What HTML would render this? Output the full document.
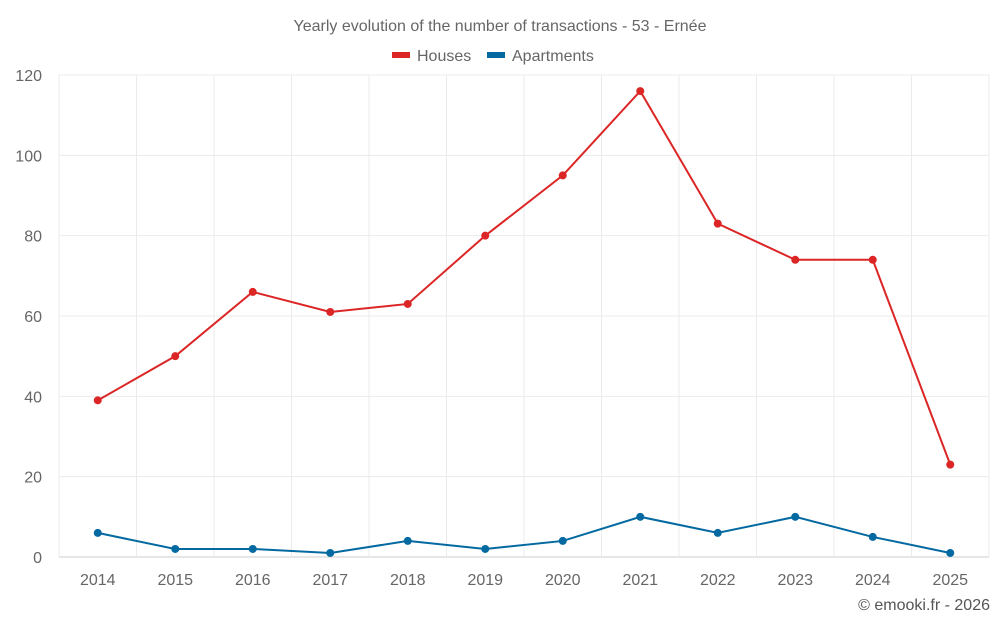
<!DOCTYPE html>
<html><head><meta charset="utf-8"><style>
body{margin:0;background:#fff;width:1000px;height:625px;overflow:hidden;font-family:"Liberation Sans",sans-serif}
svg text{font-family:"Liberation Sans",sans-serif}
</style></head><body>
<svg id="chart" width="1000" height="625" xmlns="http://www.w3.org/2000/svg">
<text x="500" y="31" text-anchor="middle" font-size="16" fill="#666">Yearly evolution of the number of transactions - 53 - Ernée</text>
<g>
<g><rect x="392" y="52" width="18" height="6" fill="#dc2626"/><text x="417" y="61" font-size="16" fill="#666">Houses</text></g>
<g><rect x="487" y="52" width="18" height="6" fill="#0369a1"/><text x="512" y="61" font-size="16" fill="#666">Apartments</text></g>
</g>
<g id="grid"></g>
<g id="axes"></g>
<g id="series"></g>
<text x="990" y="610" text-anchor="end" font-size="16" fill="#555">© emooki.fr - 2026</text>
</svg>
<script>
const years=["2014","2015","2016","2017","2018","2019","2020","2021","2022","2023","2024","2025"];
const houses=[39,50,66,61,63,80,95,116,83,74,74,23];
const apartments=[6,2,2,1,4,2,4,10,6,10,5,1];
const yTicks=[0,20,40,60,80,100,120];
const NS="http://www.w3.org/2000/svg";
const left=59,right=989,y0=557,y120=75;
const band=(right-left)/years.length;
const x=i=>left+band*(i+0.5);
const y=v=>y0-(v/120)*(y0-y120);
function mk(t,a,p){const e=document.createElementNS(NS,t);for(const k in a)e.setAttribute(k,a[k]);p.appendChild(e);return e;}
const grid=document.getElementById('grid'),axes=document.getElementById('axes'),ser=document.getElementById('series');
yTicks.forEach(v=>{
 const l=mk('line',{x1:left,x2:right,y1:y(v),y2:y(v),stroke:v===0?'#ccc':'#ebebeb','stroke-width':1},grid);
 
 
 const t=mk('text',{x:42,y:y(v)+6,'text-anchor':'end','font-size':16,fill:'#666'},axes);
 t.textContent=v;
 
 
});
for(let i=0;i<=years.length;i++){
 const l=mk('line',{x1:left+band*i,x2:left+band*i,y1:y120,y2:y0,stroke:'#ebebeb','stroke-width':1},grid);
 
 
}
years.forEach((yr,i)=>{
 const t=mk('text',{x:x(i),y:585,'text-anchor':'middle','font-size':16,fill:'#666'},axes);
 t.textContent=yr;
 
 
});
function drawSeries(vals,color,name){
 const g=mk('g',{},ser);
 
 
 const p=mk('polyline',{points:vals.map((v,i)=>x(i)+','+y(v)).join(' '),fill:'none',stroke:color,'stroke-width':2},g);
 
 
 vals.forEach((v,i)=>{
  const c=mk('circle',{cx:x(i),cy:y(v),r:4,fill:color},g);
  
  
 });
}
drawSeries(houses,'#dc2626','houses');
drawSeries(apartments,'#0369a1','apartments');
</script>
</body></html>
